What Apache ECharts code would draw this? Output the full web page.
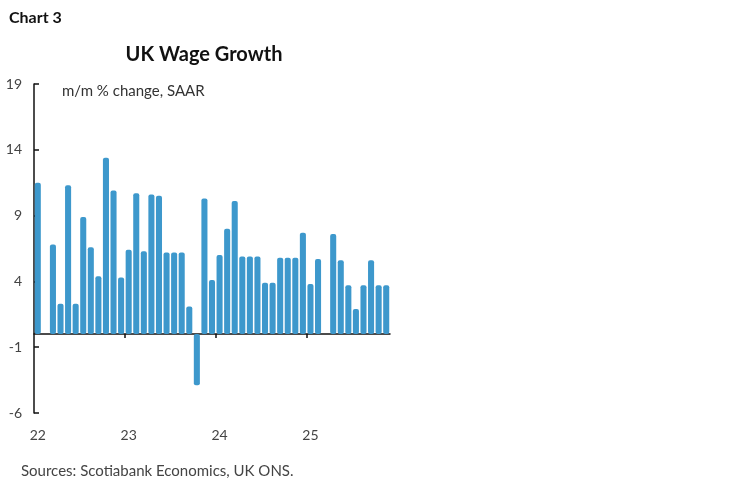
<!DOCTYPE html>
<html>
<head>
<meta charset="utf-8">
<script src="https://cdn.jsdelivr.net/npm/echarts@6/dist/echarts.min.js"></script>
<style>
html,body{margin:0;padding:0;background:#fff;}
#c{width:748px;height:483px;}
</style>
</head>
<body>
<div id="c"></div>
<script>
// Monthly categories Jan 2022 .. Nov 2025
const months = ['Jan','Feb','Mar','Apr','May','Jun','Jul','Aug','Sep','Oct','Nov','Dec'];
const categories = [];
for (let y = 22; y <= 25; y++) {
  for (let m = 0; m < 12; m++) {
    if (y === 25 && m > 10) break;
    categories.push(months[m] + '-' + y);
  }
}
// m/m % change, SAAR (null = no bar)
const wageGrowth = [
  11.5, null, 6.8, 2.3, 11.3, 2.3, 8.9, 6.6, 4.4, 13.4, 10.9, 4.3,
  6.4, 10.7, 6.3, 10.6, 10.5, 6.2, 6.2, 6.2, 2.1, -3.9, 10.3, 4.1,
  6.0, 8.0, 10.1, 5.9, 5.9, 5.9, 3.9, 3.9, 5.8, 5.8, 5.8, 7.7,
  3.8, 5.7, null, 7.6, 5.6, 3.7, 1.9, 3.7, 5.6, 3.7, 3.7
];
const yTicks = [-6, -1, 4, 9, 14, 19];
const yearLabels = ['22', '23', '24', '25'];
// year boundaries (start of Jan 23, 24, 25) as category positions
const yearBoundaries = categories.map((c, i) => (c.startsWith('Jan') && i > 0) ? i : null).filter(v => v !== null);

const chart = echarts.init(document.getElementById('c'), null, {renderer: 'canvas'});
const font = 'Lato, "Open Sans", sans-serif';
chart.setOption({
  animation: false,
  backgroundColor: '#ffffff',
  textStyle: {fontFamily: font},
  title: [
    {text: 'Chart 3', left: 4, top: 5, textStyle: {fontSize: 16, fontWeight: 'bold', color: '#111', fontFamily: font}},
    {text: 'UK Wage Growth', left: 199, textAlign: 'center', top: 40, textStyle: {fontSize: 20, fontWeight: 'bold', color: '#111', fontFamily: font}},
    {text: 'm/m % change, SAAR', left: 57, top: 79, textStyle: {fontSize: 15, fontWeight: 'normal', color: '#333', fontFamily: font}},
    {text: 'Sources: Scotiabank Economics, UK ONS.', left: 16, top: 459, textStyle: {fontSize: 15, fontWeight: 'normal', color: '#444', fontFamily: font}}
  ],
  grid: {left: 34, right: 358, top: 84, bottom: 70, containLabel: false},
  xAxis: [
    {
      type: 'value', min: 0, max: categories.length, position: 'bottom',
      axisLine: {show: true, onZero: true, lineStyle: {color: '#111', width: 1.5}},
      axisTick: {show: true, length: 4, inside: false, customValues: yearBoundaries, lineStyle: {color: '#111', width: 1.5}},
      axisLabel: {show: false},
      splitLine: {show: false}
    },
    {
      type: 'category', data: categories, boundaryGap: true, position: 'bottom',
      axisLine: {show: false, onZero: false},
      axisTick: {show: false},
      axisLabel: {show: false},
      splitLine: {show: false}
    },
    {
      type: 'category', data: categories, boundaryGap: true, position: 'bottom',
      axisLine: {show: false, onZero: false}, axisTick: {show: false},
      axisLabel: {
        show: true, margin: 15, fontSize: 14, color: '#444', fontFamily: font,
        interval: function (i) { return i % 12 === 0; },
        formatter: function (v, i) { return yearLabels[Math.floor(i / 12)]; }
      }
    }
  ],
  yAxis: {
    type: 'value', min: -6, max: 19,
    axisLine: {show: true, onZero: false, lineStyle: {color: '#111', width: 1.5}},
    axisTick: {show: true, inside: true, length: 5, customValues: yTicks, lineStyle: {color: '#111', width: 1.5}},
    axisLabel: {show: true, customValues: yTicks, margin: 12, fontSize: 14, color: '#444', fontFamily: font},
    splitLine: {show: false}
  },
  series: [{
    type: 'bar', xAxisIndex: 1, data: wageGrowth,
    barCategoryGap: '20%',
    itemStyle: {color: '#3d98cc', borderRadius: 2}
  }]
});
</script>
</body>
</html>
